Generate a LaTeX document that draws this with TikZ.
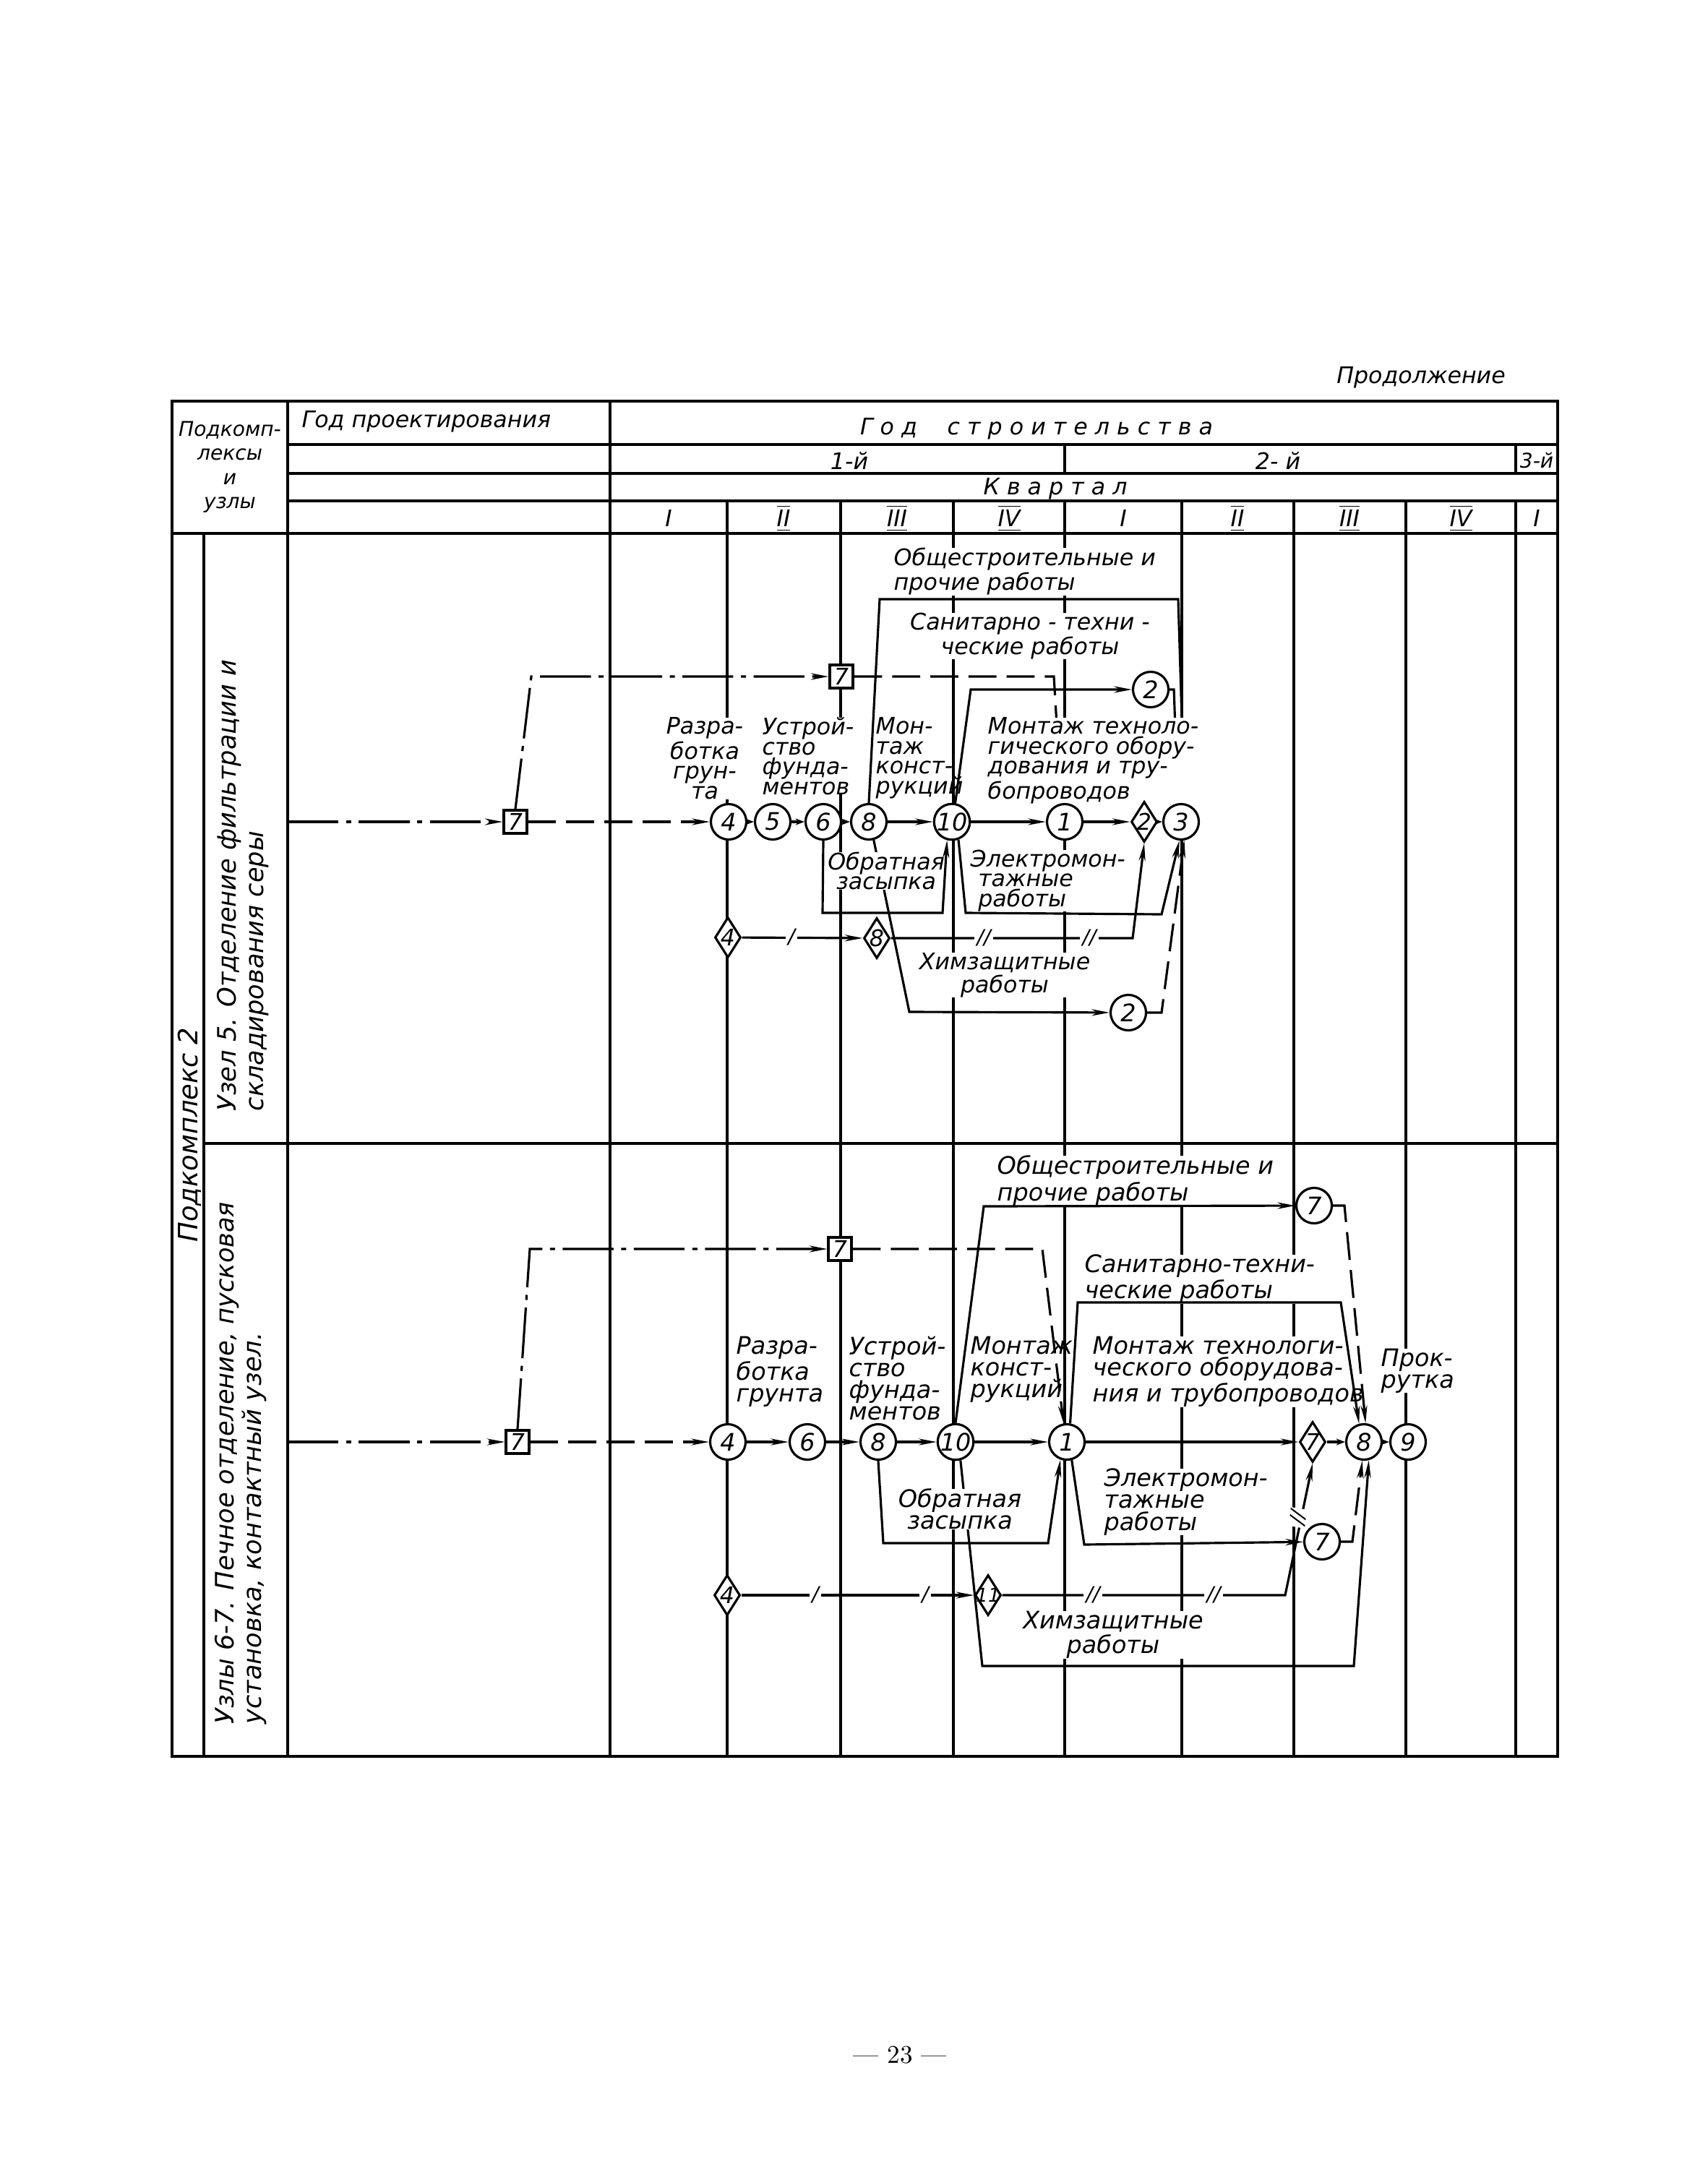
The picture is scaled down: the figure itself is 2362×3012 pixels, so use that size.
\documentclass[tikz,border=0pt]{standalone}
\usepackage{fontspec}
\usepackage{tikz}
\usetikzlibrary{arrows.meta,shapes.geometric}
\newfontfamily\gost{DejaVu Sans}
\newcommand{\rim}[1]{$\overline{\underline{\hbox{#1}}}$}
\pgfdeclarelayer{bg}\pgfdeclarelayer{hid}\pgfdeclarelayer{txt}
\pgfsetlayers{bg,hid,txt,main}

\begin{document}
\begin{tikzpicture}[x=0.01cm,y=-0.01cm,
    ln/.style={line width=0.9pt},
    frm/.style={line width=1.3pt},
    arr/.style={-{Stealth[length=7pt,width=2.6pt]}},
    sarr/.style={-{Stealth[length=3.5pt,width=2.6pt]}},
    dd/.style={dash pattern=on 11pt off 4pt},
    dda/.style={dash pattern=on 20pt off 3pt on 2pt off 3pt},
    ev/.style={circle,draw,ln,fill=white,minimum size=0.49cm,inner sep=0pt,font=\gost\itshape\fontsize{9.5}{10}\selectfont},
    dia/.style={diamond,draw,ln,fill=white,minimum width=0.36cm,minimum height=0.56cm,inner sep=0pt,font=\gost\itshape\fontsize{9}{10}\selectfont},
    sq/.style={rectangle,draw,ln,fill=white,minimum size=0.32cm,inner sep=0pt,font=\gost\itshape\fontsize{9}{10}\selectfont},
    lbl/.style={inner sep=0pt,align=left,font=\gost\itshape\fontsize{9}{7.8}\selectfont},
    lbll/.style={lbl,font=\gost\itshape\fontsize{9.5}{8.6}\selectfont},
    wh/.style={fill=white},
    hd/.style={inner sep=0pt,font=\gost\itshape\fontsize{9}{9.5}\selectfont},
    vt/.style={inner sep=0pt,rotate=90,align=left,font=\gost\itshape\fontsize{10}{10.8}\selectfont},
    mk/.style={fill=white,inner sep=1pt,font=\gost\itshape\fontsize{8}{8}\selectfont}]

    \useasboundingbox (0,0) rectangle (2362,3012);

    % table
    \begin{pgfonlayer}{bg}
        \draw[frm] (238,555) rectangle (2155,2430);
        \draw[ln] (398,555) -- (398,2430);
        \draw[ln] (844,555) -- (844,2430);
        \draw[ln] (282,738) -- (282,2430);
        \draw[ln] (398,615) -- (2155,615);
        \draw[ln] (398,655) -- (2155,655);
        \draw[ln] (398,693) -- (2155,693);
        \draw[frm] (238,738) -- (2155,738);
        \draw[ln] (282,1582) -- (2155,1582);
        \draw[ln] (1473,615) -- (1473,655);
        \draw[ln] (2097,615) -- (2097,655);
        \foreach \x in {1006,1163,1319,1473,1635,1790,1945,2097}
            \draw[ln] (\x,693) -- (\x,2430);
    \end{pgfonlayer}

    % header
    \node[hd] (cont) at (1966,522) {Продолжение};
    \node[hd,align=center,font=\gost\itshape\fontsize{8}{9.5}\selectfont] (hSub) at (318,646) {Подкомп-\\лексы\\и\\узлы};
    \node[hd,anchor=west] (hDes) at (417,583) {Год проектирования};
    \node[hd] (hCon) at (1434,593) {Г о д \quad с т р о и т е л ь с т в а};
    \node[hd] (hY1) at (1175,637) {1-й};
    \node[hd] (hY2) at (1768,637) {2- й};
    \node[hd,font=\gost\itshape\fontsize{8}{9}\selectfont] (hY3) at (2126,637) {3-й};
    \node[hd] (hKv) at (1460,676) {К в а р т а л};
    \foreach \x/\t [count=\i] in {925/I,1084/\rim{II},1241/\rim{III},1396/\rim{IV},1554/I,1712/\rim{II},1867/\rim{III},2021/\rim{IV},2126/I}
        \node[hd] (q\i) at (\x,717) {\t};

    % left column
    \node[vt,font=\gost\itshape\fontsize{10.5}{11}\selectfont] (sub2) at (262,1570) {Подкомплекс 2};
    \node[vt,anchor=west] (uzA) at (336,1538) {Узел 5. Отделение фильтрации и\\складирования серы};
    \node[vt,anchor=west] (uzB) at (333,2386) {Узлы 6-7. Печное отделение, пусковая\\установка, контактный узел.};

    % upper network
    \coordinate (uS) at (398,1137);
    \node[sq] (uA7) at (713,1137) {7};
    \node[sq] (uB7) at (1164,936) {7};
    \node[ev] (u4) at (1008,1137) {4};
    \node[ev] (u5) at (1069,1137) {5};
    \node[ev] (u6) at (1139,1137) {6};
    \node[ev] (u8) at (1202,1137) {8};
    \node[ev] (u10) at (1317,1137) {10};
    \node[ev] (u1) at (1473,1137) {1};
    \node[dia] (uD2) at (1583,1137) {\makebox[0pt]{2}};
    \node[ev] (u3) at (1634,1137) {3};
    \node[ev] (uC2a) at (1592,954) {2};
    \node[dia] (uD4) at (1007,1297) {\makebox[0pt]{4}};
    \node[dia] (uD8) at (1213,1298) {\makebox[0pt]{8}};
    \node[ev] (uC2b) at (1561,1401) {2};

    % lower network
    \coordinate (lS) at (398,1995);
    \node[sq] (lA7) at (716,1995) {7};
    \node[sq] (lB7) at (1162,1728) {7};
    \node[ev] (l4) at (1007,1995) {4};
    \node[ev] (l6) at (1117,1995) {6};
    \node[ev] (l8) at (1215,1995) {8};
    \node[ev] (l10) at (1322,1995) {10};
    \node[ev] (l1) at (1476,1995) {1};
    \node[dia] (lD7) at (1816,1995) {\makebox[0pt]{7}};
    \node[ev] (l8b) at (1887,1995) {8};
    \node[ev] (l9) at (1948,1995) {9};
    \node[ev] (lC7a) at (1818,1668) {7};
    \node[ev] (lC7b) at (1829,2133) {7};
    \node[dia] (lD4) at (1006,2207) {\makebox[0pt]{4}};
    \node[dia] (lD11) at (1367,2207) {\makebox[0pt]{\fontsize{7.5}{8}\selectfont 11}};

    % links that run behind the texts
    \begin{pgfonlayer}{hid}
        \draw[ln,dd,arr] (uB7) -- (1458,936) -- (u1.100);
        \draw[ln,arr] (u8.285) -- (1258,1400) -- (uC2b);
        \draw[ln,arr] (u8.north) -- (1217,829) -- (1630,829) -- (u3.80);
        \draw[ln,arr] (uC2a.east) -- ++(6,0) -- (u3.100);
        \draw[ln,arr] (l10.285) -- (1359,2305) -- (1873,2305) -- (l8b.285);
    \end{pgfonlayer}

    % work names
    \begin{pgfonlayer}{txt}
        \node[lbl,wh,anchor=north west] (tObU) at (1236,757) {Общестроительные и\\прочие работы};
        \node[lbl,wh,align=center] (tSaU) at (1425,880) {Санитарно - техни -\\ческие работы};
        \node[lbl,wh,align=center,anchor=north] (tRaU) at (975,992) {Разра-\\ботка\\грун-\\та};
        \node[lbl,wh,anchor=north west] (tUsU) at (1054,992) {Устрой-\\ство\\фунда-\\ментов};
        \node[lbl,anchor=north west] (tMkU) at (1211,992) {Мон-\\таж\\конст-\\рукций};
        \node[lbl,wh,anchor=north west] (tMtU) at (1366,992) {Монтаж техноло-\\гического обору-\\дования и тру-\\бопроводов};
        \node[lbl,wh,align=center] (tObrU) at (1226,1205) {Обратная\\засыпка};
        \node[lbl,wh,anchor=north west] (tElU) at (1342,1175) {Электромон-\\\hspace*{3pt}тажные\\\hspace*{3pt}работы};
        \node[lbl,wh,align=center] (tHiU) at (1390,1349) {Химзащитные\\работы};

        \node[lbll,wh,anchor=north west] (tObL) at (1379,1598) {Общестроительные и\\прочие работы};
        \node[lbll,wh,anchor=north west] (tSaL) at (1500,1735) {Санитарно-техни-\\ческие работы};
        \node[lbll,anchor=north west] (tRaL) at (1018,1848) {Разра-\\ботка\\грунта};
        \node[lbll,anchor=north west] (tUsL) at (1174,1848) {Устрой-\\ство\\фунда-\\ментов};
        \node[lbll,anchor=north west] (tMkL) at (1342,1848) {Монтаж\\конст-\\рукций};
        \node[lbll,wh,anchor=north west] (tMtL) at (1511,1848) {Монтаж технологи-\\ческого оборудова-\\ния и трубопроводов};
        \node[lbll,wh,anchor=north west] (tPrL) at (1910,1865) {Прок-\\рутка};
        \node[lbll,wh,align=center] (tObrL) at (1328,2088) {Обратная\\засыпка};
        \node[lbll,wh,anchor=north west] (tElL) at (1527,2031) {Электромон-\\тажные\\работы};
        \node[lbll,wh,align=center] (tHiL) at (1540,2262) {Химзащитные\\работы};
    \end{pgfonlayer}

    % upper links
    \draw[ln,dda,arr] (uS) -- (uA7);
    \draw[ln,dd,arr] (uA7) -- (u4);
    \draw[ln,dda,arr] (uA7.north) -- (735,936) -- (uB7);
    \draw[ln,sarr] (u4) -- (u5);
    \draw[ln,sarr] (u5) -- (u6);
    \draw[ln,sarr] (u6) -- (u8);
    \draw[ln,arr] (u8) -- (u10);
    \draw[ln,arr] (u10) -- (u1);
    \draw[ln,arr] (u1) -- (uD2);
    \draw[ln,sarr] (uD2) -- (u3);
    \draw[ln,arr] (u10.80) -- (1343,954) -- (uC2a);
    \draw[ln,arr] (u6.south) -- (1138,1263) -- (1304,1263) -- (u10.255);
    \draw[ln,arr] (u10.290) -- (1336,1263) -- (1607,1265) -- (u3.265);
    \draw[ln,dd,arr] (uC2b) -- (1607,1401) -- (u3.280);
    \draw[ln,arr] (uD4) -- (uD8);
    \draw[ln,arr] (uD8) -- (1567,1298) -- (uD2.south);
    \node[mk] (mU1) at (1095,1297) {/};
    \node[mk] (mU2) at (1361,1298) {//};
    \node[mk] (mU3) at (1507,1298) {//};

    % lower links
    \draw[ln,dda,arr] (lS) -- (lA7);
    \draw[ln,dd,arr] (lA7) -- (l4);
    \draw[ln,dda,arr] (lA7.north) -- (733,1728) -- (lB7);
    \draw[ln,dd,arr] (lB7) -- (1442,1728) -- (l1.100);
    \draw[ln,arr] (l4) -- (l6);
    \draw[ln,arr] (l6) -- (l8);
    \draw[ln,arr] (l8) -- (l10);
    \draw[ln,arr] (l10) -- (l1);
    \draw[ln,arr] (l1) -- (lD7);
    \draw[ln,sarr] (lD7) -- (l8b);
    \draw[ln,sarr] (l8b) -- (l9);
    \draw[ln,arr] (l10.north) -- (1361,1669) -- (lC7a);
    \draw[ln,dd,arr] (lC7a) -- (1860,1668) -- (l8b.85);
    \draw[ln,arr] (l1.80) -- (1491,1802) -- (1855,1802) -- (l8b.105);
    \draw[ln,arr] (l8.south) -- (1222,2135) -- (1450,2135) -- (l1.250);
    \draw[ln,arr] (l1.285) -- (1500,2137) -- (lC7b);
    \draw[ln,dd,arr] (lC7b) -- (1871,2133) -- (l8b.265);
    \draw[ln,arr] (lD4) -- (lD11);
    \draw[ln,arr] (lD11) -- (1778,2207) -- (lD7.south);
    \node[mk] (mL1) at (1128,2207) {/};
    \node[mk] (mL2) at (1280,2207) {/};
    \node[mk] (mL3) at (1512,2207) {//};
    \node[mk] (mL4) at (1679,2207) {//};
    \node[mk,rotate=80] (mL5) at (1796,2100) {//};

    \node (pg) at (1245,2843) {\fontsize{10}{12}\selectfont --- 23 ---};
\end{tikzpicture}
\end{document}
